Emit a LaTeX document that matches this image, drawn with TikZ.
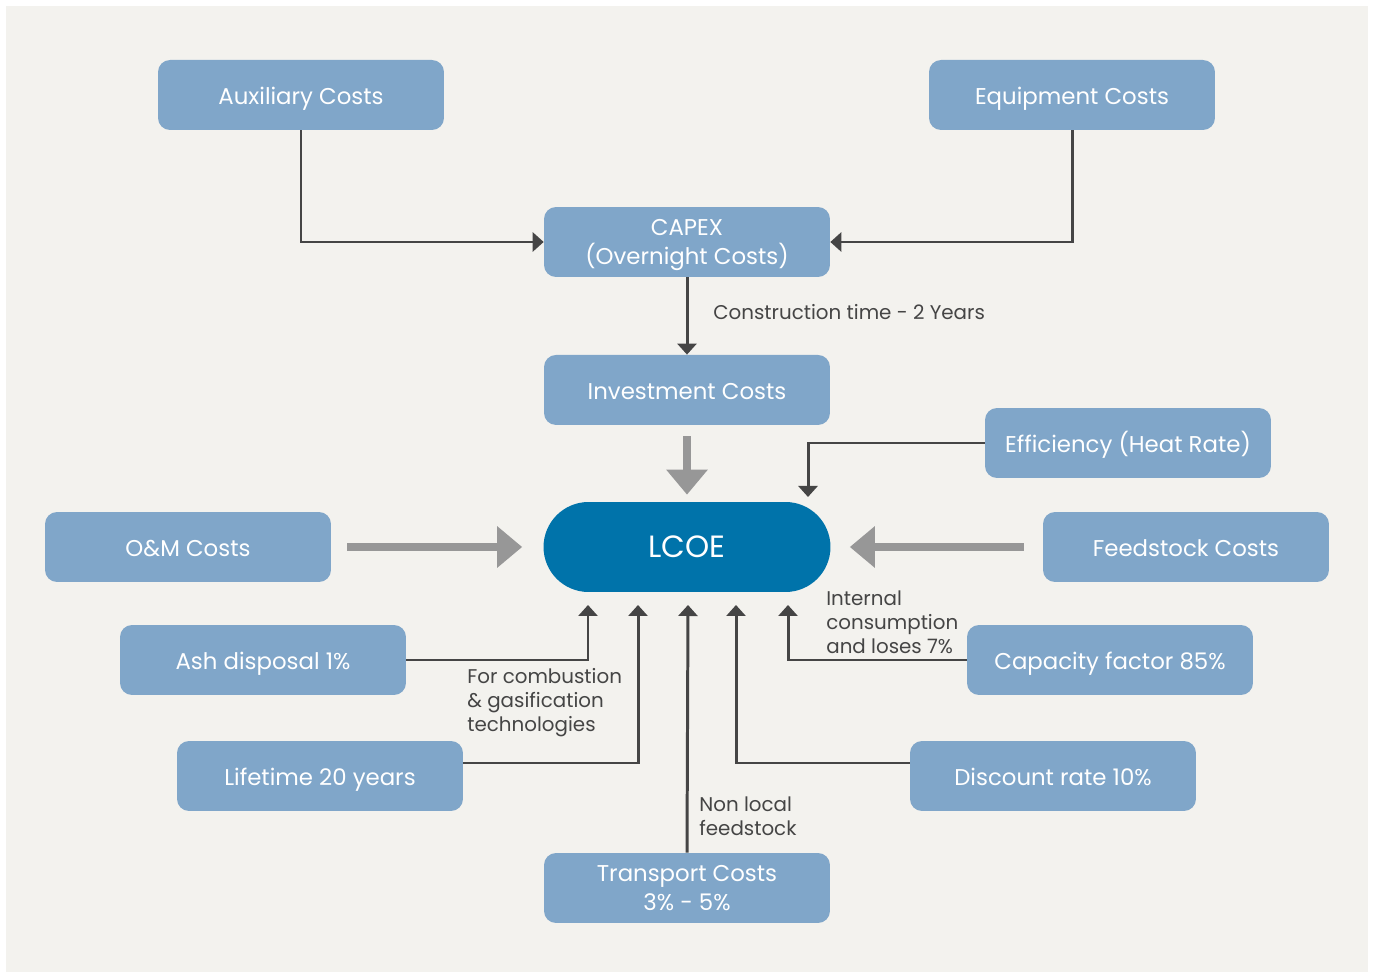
\documentclass[tikz,border=0pt]{standalone}
\usepackage{fontspec}
\setmainfont{Poppins}
\usetikzlibrary{positioning}
\usetikzlibrary{arrows.meta}

\definecolor{panel}{HTML}{F3F2EE}
\definecolor{boxblue}{HTML}{80A6C9}
\definecolor{lcoeblue}{HTML}{0073AA}
\definecolor{linegray}{HTML}{454545}
\definecolor{fatgray}{HTML}{979797}

\tikzset{
 box/.style={fill=boxblue, text=white, rounded corners=0.24cm, minimum width=5.72cm, minimum height=1.4cm, align=center, font=\fontsize{13}{16}\selectfont,
   text height=14pt, text depth=3.5pt},
 twoline/.style={text height=28.1pt, text depth=3pt},
 note/.style={text=linegray, inner sep=0pt, align=left, anchor=west, font=\fontsize{11.3}{13.6}\selectfont},
 link/.style={draw=linegray, line width=1.7pt, -{Triangle[width=0.38cm,length=0.22cm]}},
 fat/.style={draw=fatgray, line width=0.16cm, -{Triangle[width=0.8cm,length=0.5cm]}},
}

\begin{document}
\begin{tikzpicture}[x=0.02cm, y=-0.02cm, node distance=2.96cm]
 \fill[white] (0,0) rectangle (1373,972);
 \fill[panel] (6,6) rectangle (1368,972);

 \node[box, name=aux]               at (301,95)   {Auxiliary Costs};
 \node[box, name=equip]             at (1072,95)  {Equipment Costs};
 \node[box, twoline, name=capex]    at (687,242)  {CAPEX\\(Overnight Costs)};
 \node[box, below of=capex, name=invest]          {Investment Costs};
 \node[box, name=eff]               at (1128,443) {Efficiency (Heat Rate)};
 \node[box, name=om]                at (188,547)  {O\&M Costs};
 \node[box, name=feed]              at (1186,547) {Feedstock Costs};
 \node[box, name=ash]               at (263,660)  {Ash disposal 1\%};
 \node[box, name=capf]              at (1110,660) {Capacity factor 85\%};
 \node[box, name=life]              at (320,776)  {Lifetime 20 years};
 \node[box, name=disc]              at (1053,776) {Discount rate 10\%};
 \node[box, twoline, name=transp]   at (687,888)  {Transport Costs\\3\% - 5\%};

 \node[name=lcoe, fill=lcoeblue, text=white, rounded corners=0.9cm, minimum width=5.74cm, minimum height=1.8cm, font=\fontsize{17.5}{20}\selectfont] at (687,547) {LCOE};

 \coordinate (effin)   at (808,497);
 \coordinate (ashin)   at (588,605);
 \coordinate (lifein)  at (638,605);
 \coordinate (transin) at (688,605);
 \coordinate (discin)  at (736,605);
 \coordinate (capfin)  at (788,605);

 \draw[link] (aux.south)   |- (capex.west);
 \draw[link] (equip.south) |- (capex.east);
 \draw[link] (capex) -- (invest);
 \draw[link] (eff.west) -| (effin);
 \draw[link] (ash.east) -| (ashin);
 \draw[link] ([yshift=0.26cm]life.east) -| (lifein);
 \draw[link] (transp.north) -- (transin);
 \draw[link] ([yshift=0.26cm]disc.west) -| (discin);
 \draw[link] (capf.west) -| (capfin);

 \draw[fat, shorten <=0.22cm, shorten >=0.14cm] (invest) -- (lcoe);
 \draw[fat, shorten <=0.32cm, shorten >=0.42cm] (om) -- (lcoe);
 \draw[fat, shorten <=0.38cm, shorten >=0.38cm] (feed) -- (lcoe);

 \node[note, name=contime]  at (713,312) {Construction time - 2 Years};
 \node[note, name=combnote] at (467,703) {For combustion\\\& gasification\\technologies};
 \node[note, name=intnote]  at (826,622) {Internal\\consumption\\and loses 7\%};
 \node[note, name=locnote]  at (699,816) {Non local\\feedstock};
\end{tikzpicture}
\end{document}
